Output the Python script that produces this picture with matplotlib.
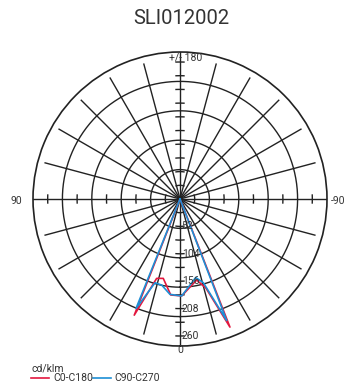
import numpy as np
import matplotlib.pyplot as plt
from matplotlib.lines import Line2D

plt.rcParams['font.family'] = ['Roboto', 'DejaVu Sans']

# datos (grados, positivo hacia la izquierda = lado C180 / C270)
ang_c0 = [25, 21.5, 16.4, 11.9, 5.5, -1, -11.6, -16.2, -21.3, -25]
val_c0 = [0, 237, 157, 154, 183, 184, 157, 176, 261, 0]
ang_c90 = [25, 21.9, 16.6, 12, 6, -1, -11.3, -15.6, -21, -25]
val_c90 = [0, 224, 166, 167, 182, 184, 152, 165, 247, 0]

rmax = 279
radial_labels = [52, 104, 156, 208, 260]
titulo = 'SLI012002'

W, H = 346, 385
fig = plt.figure(figsize=(W / 100, H / 100), dpi=100)
cx, cy, R = 180, 199, 147
ax = fig.add_axes([(cx - R) / W, (H - cy - R) / H, 2 * R / W, 2 * R / H],
                  projection='polar')
ax.set_theta_zero_location('S')
ax.set_theta_direction(-1)
ax.set_ylim(0, rmax)
ax.grid(False)
ax.set_xticks([])
ax.set_yticks([])
ax.spines['polar'].set_color('#222222')
ax.spines['polar'].set_linewidth(1.2)

gc = '#222222'
t = np.linspace(0, 2 * np.pi, 400)
# circulos
for k in range(1, 5):
    ax.plot(t, np.full_like(t, rmax * k / 5), color=gc, lw=1.0)
# radios cada 15 grados
for d in range(0, 360, 15):
    th = np.deg2rad(d)
    if d % 90 == 0:
        ax.plot([th, th], [0, rmax], color=gc, lw=1.0)
    else:
        ax.plot([th, th], [0, rmax * 0.95], color=gc, lw=1.0)

px = R / rmax


def tick(th0, r, half=4):
    dth = half / (r * px)
    tt = np.linspace(th0 - dth, th0 + dth, 7)
    ax.plot(tt, np.full_like(tt, r), color=gc, lw=1.0)


for v in range(26, 261, 26):
    tick(0, v)
    tick(np.pi, v)
for f in [0.1, 0.3, 0.5, 0.7, 0.9]:
    tick(np.pi / 2, rmax * f)
    tick(-np.pi / 2, rmax * f)

for v in radial_labels:
    ax.annotate(str(v), xy=(0, v), xytext=(1.2, 0), textcoords='offset points',
                ha='left', va='center', fontsize=7.5, color='#333333')

# curvas
ax.plot(np.deg2rad(ang_c0), val_c0, color='#e3173e', lw=1.2)
ax.plot(np.deg2rad(ang_c90), val_c90, color='#1d8fd6', lw=1.2)

tc = '#333333'
fig.text(181 / W, 1 - 18 / H, titulo, ha='center', va='center', fontsize=14.5, color=tc)
fig.text(186 / W, 1 - 57.5 / H, '+/- 180', ha='center', va='center', fontsize=7.5, color=tc)
fig.text(16 / W, 1 - 201 / H, '90', ha='center', va='center', fontsize=7.5, color=tc)
fig.text(338 / W, 1 - 201 / H, '-90', ha='center', va='center', fontsize=7.5, color=tc)
fig.text(180 / W, 1 - 350 / H, '0', ha='center', va='center', fontsize=7.5, color=tc)

# leyenda
fig.text(31 / W, 1 - 368 / H, 'cd/klm', ha='left', va='center', fontsize=7.5, color=tc)
fig.add_artist(Line2D([31 / W, 49 / W], [1 - 378 / H] * 2, color='#e3173e', lw=1.2))
fig.text(53 / W, 1 - 378 / H, 'C0-C180', ha='left', va='center', fontsize=7.5, color=tc)
fig.add_artist(Line2D([93 / W, 111 / W], [1 - 378 / H] * 2, color='#1d8fd6', lw=1.2))
fig.text(114 / W, 1 - 378 / H, 'C90-C270', ha='left', va='center', fontsize=7.5, color=tc)

fig.savefig('out.png', dpi=100, facecolor='white')
